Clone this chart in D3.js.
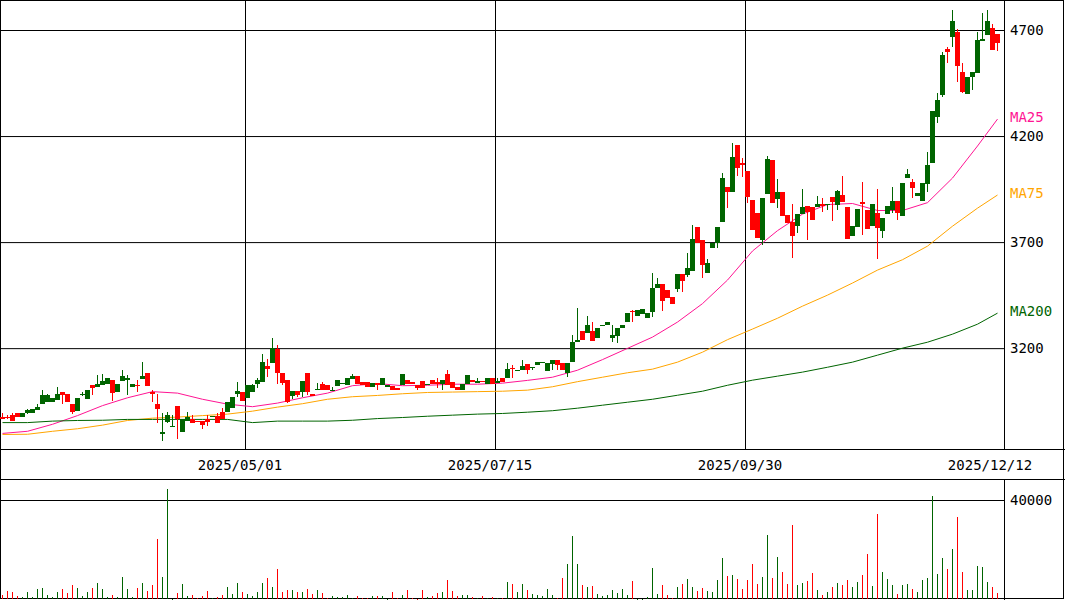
<!doctype html>
<html>
  <head>
    <meta charset="utf-8"/>
    <title>Daily chart</title>
    <style>
      body, html {
        margin: 0;
        padding: 0;
        background: white;
      }
      svg {
        display: block;
      }
    </style>
    <script src="https://d3js.org/d3.v7.min.js"></script>
  </head>
  <body>
    <svg width="1065" height="600"></svg>
    <script>
      // daily candles, oldest first (200 sessions)
      var opens = [
        2876,2875,2884,2892,2876,2892,2895,2907,2939,2947,
        2947,2955,2991,2986,2936,2904,2980,2958,3025,3015,
        3025,3030,3049,2994,3046,3052,3018,3027,3054,3083,
        2994,2936,2797,2853,2830,2926,2805,2856,2868,2857,
        2856,2865,2876,2879,2900,2897,2918,2986,2992,2966,
        2994,3033,3041,3115,3131,3195,3081,3049,2975,2997,
        2994,3081,2986,3003,3030,3025,2998,3021,3033,3025,
        3055,3068,3040,3040,3017,3036,3025,3017,3021,3010,
        3025,3052,3041,3025,3046,3025,3049,3041,3033,3077,
        3041,3017,3002,3033,3049,3038,3046,3033,3057,3036,
        3057,3057,3106,3096,3099,3123,3107,3120,3131,3093,
        3123,3143,3132,3081,3135,3230,3280,3272,3280,3246,
        3304,3308,3246,3257,3296,3324,3375,3351,3359,3340,
        3371,3482,3502,3474,3442,3478,3549,3544,3565,3771,
        3711,3552,3670,3694,3796,3958,3937,4157,4074,4035,
        3898,3838,3709,3926,4087,3903,3937,3827,3796,3775,
        3831,3870,3864,3864,3882,3874,3914,3874,3922,3864,
        3728,3772,3890,3851,3775,3835,3752,3831,3851,3893,
        3823,4003,3984,3918,3895,3974,4071,4291,4393,4609,
        4668,4692,4503,4398,4477,4498,4650,4676,4709,4681
      ];
      var highs = [
        2892,2887,2892,2892,2892,2912,2911,2939,3002,2986,
        2963,3015,2991,2986,2936,2963,2994,3002,3025,3073,
        3077,3057,3049,3033,3096,3073,3030,3052,3135,3083,
        3005,2986,2895,2897,2884,2926,2864,2898,2884,2857,
        2856,2887,2879,2892,2916,2945,2970,3041,2992,3025,
        3033,3057,3172,3151,3246,3214,3081,3049,2997,2997,
        3044,3081,2986,3036,3041,3025,3017,3052,3038,3057,
        3077,3068,3040,3040,3036,3036,3057,3024,3021,3010,
        3077,3052,3041,3025,3046,3033,3049,3057,3049,3096,
        3041,3017,3033,3073,3049,3057,3046,3057,3057,3060,
        3057,3128,3120,3099,3146,3123,3112,3134,3135,3128,
        3143,3143,3132,3131,3261,3387,3280,3351,3321,3296,
        3308,3324,3308,3294,3308,3368,3379,3379,3384,3366,
        3552,3529,3502,3474,3442,3549,3549,3647,3780,3771,
        3711,3620,3697,3771,4024,3958,4166,4157,4095,4035,
        3898,3838,3909,4106,4087,3997,3937,3827,3879,3832,
        3950,3870,3864,3917,3906,3879,3914,3945,4011,3864,
        3775,3856,3984,3851,3882,3950,3816,3870,3961,3893,
        3980,4047,3997,3932,3980,4126,4318,4404,4598,4621,
        4794,4703,4543,4480,4503,4689,4779,4794,4728,4681
      ];
      var lows = [
        2864,2864,2857,2876,2876,2888,2895,2907,2939,2947,
        2947,2955,2936,2947,2889,2904,2973,2958,2978,3015,
        3025,3030,2951,2994,3046,2978,3018,2994,3054,3021,
        2947,2845,2763,2845,2829,2772,2805,2856,2848,2853,
        2818,2833,2876,2848,2865,2897,2918,2970,2951,2966,
        2994,3010,3041,3065,3131,3033,3025,2942,2958,2970,
        2970,2978,2975,3002,3002,3002,2998,3021,3033,3025,
        3055,3033,3025,3017,3017,3005,3025,3017,3002,3002,
        3025,3033,3033,3002,3010,3025,3030,3010,3005,3025,
        3013,3002,3002,3033,3041,3038,3041,3033,3033,3036,
        3041,3057,3057,3096,3099,3077,3096,3120,3131,3093,
        3099,3096,3096,3065,3135,3230,3238,3272,3234,3246,
        3304,3308,3230,3222,3296,3324,3324,3351,3359,3340,
        3348,3482,3376,3435,3408,3463,3466,3536,3565,3694,
        3532,3552,3670,3670,3796,3859,3937,4011,4005,3883,
        3757,3717,3686,3926,3886,3859,3823,3791,3623,3744,
        3831,3709,3804,3864,3843,3851,3800,3851,3890,3713,
        3728,3772,3733,3761,3775,3618,3720,3831,3837,3804,
        3823,4003,3906,3918,3895,3937,4071,4263,4385,4546,
        4621,4456,4401,4398,4417,4498,4650,4676,4606,4602
      ];
      var closes = [
        2868,2870,2857,2876,2892,2907,2911,2923,2978,2978,
        2963,2983,2980,2947,2900,2963,2986,3002,3013,3030,
        3046,3057,2989,3033,3068,3057,3030,3022,3068,3021,
        2986,2912,2803,2884,2833,2864,2864,2876,2848,2853,
        2837,2851,2879,2848,2865,2945,2970,2997,2951,3025,
        3025,3049,3135,3102,3199,3081,3036,2948,2997,2978,
        3044,2994,2975,3006,3002,3002,3005,3052,3038,3057,
        3068,3033,3025,3017,3036,3025,3057,3024,3002,3002,
        3077,3033,3033,3010,3010,3033,3030,3033,3049,3025,
        3013,3002,3033,3073,3041,3046,3041,3057,3033,3044,
        3041,3104,3101,3099,3115,3096,3112,3134,3135,3128,
        3143,3120,3096,3131,3230,3238,3238,3308,3234,3296,
        3308,3324,3261,3294,3308,3368,3370,3379,3384,3366,
        3482,3502,3423,3435,3408,3549,3518,3576,3713,3694,
        3590,3602,3697,3771,4002,3937,4099,4048,4062,3914,
        3757,3717,3909,4092,3886,3937,3823,3791,3728,3832,
        3864,3843,3804,3882,3870,3879,3890,3940,3890,3713,
        3775,3856,3882,3761,3882,3767,3816,3870,3893,3835,
        3980,4021,3956,3932,3980,4063,4318,4370,4582,4598,
        4744,4532,4409,4480,4503,4653,4657,4742,4606,4637
      ];
      var volumes = [
        1600,3200,2800,1200,800,2800,800,4000,4400,1600,
        800,2800,4000,2400,5700,4400,1200,2800,4400,6500,
        4000,800,1600,800,8900,4000,800,4400,6500,3200,
        5700,24200,8900,44400,200,2400,6100,1200,1600,400,
        1200,3200,400,800,1600,4800,2000,6500,2800,2000,
        1200,2800,6500,8500,4800,12100,2800,3600,3600,2800,
        2800,4000,2000,3600,2400,400,1200,800,800,1600,
        400,1200,400,400,1200,1200,1200,200,2800,400,
        1600,3600,400,200,3600,800,1200,2400,2800,7700,
        3200,1200,1600,1600,800,400,1200,400,800,400,
        400,6900,6100,2800,6100,3600,2000,1600,1200,4000,
        1600,400,8500,14100,25500,14100,5700,4800,5300,2000,
        1200,1600,3600,2400,4000,1600,7300,200,200,800,
        12500,2000,5700,1600,400,4800,6100,8100,4800,3200,
        4400,3200,2800,7700,16600,9300,9700,8100,4000,7700,
        14100,6100,8900,25900,8500,17000,10900,6100,29900,5700,
        6500,7300,10500,3600,1600,2800,4800,6500,5700,7700,
        4800,6900,9700,18200,5300,34300,10900,8100,5700,2000,
        5700,6100,4000,2800,7700,8500,41600,10100,16600,12100,
        20200,33100,10900,3600,3600,13300,12900,6900,4800,2400
      ];

      // moving averages read every 5 sessions (plus the last one)
      var maIndex = d3.range(0, 200, 5).concat([199]);
      var ma25 = [
        2798,2808,2841,2882,2929,2966,2995,2988,2959,2936,
        2924,2941,2966,2988,3023,3033,3023,3025,3030,3030,
        3035,3048,3063,3096,3146,3199,3252,3323,3410,3521,
        3658,3754,3832,3877,3882,3849,3849,3886,4002,4153,4280
      ];
      var ma75 = [
        2793,2794,2808,2820,2837,2859,2870,2875,2882,2889,
        2903,2922,2938,2959,2971,2977,2985,2991,2993,2995,
        2997,3002,3018,3042,3063,3084,3101,3134,3181,3240,
        3290,3341,3398,3450,3507,3568,3617,3681,3775,3860,3922
      ];
      var ma200 = [
        2849,2849,2856,2859,2860,2864,2864,2864,2864,2864,
        2849,2856,2856,2856,2860,2868,2873,2879,2884,2889,
        2892,2898,2905,2917,2931,2945,2959,2978,2997,3025,
        3049,3068,3087,3110,3134,3167,3200,3228,3266,3313,3365
      ];

      var priceTicks = [3200, 3700, 4200, 4700];
      var volumeTicks = [40000];
      var dateIndex = [49, 99, 149, 199];
      var dateLabels = ["2025/05/01", "2025/07/15", "2025/09/30", "2025/12/12"];

      var up = "#006400", down = "#ff0000";
      var font = "'DejaVu Sans Mono', monospace";

      var svg = d3.select("svg"),
          plotRight = 1004,
          mainBottom = 449;

      var x = d3.scaleBand().domain(d3.range(opens.length)).range([0, 1000]);
      var y = d3.scaleLinear().domain([2724.5, 4841.5]).range([mainBottom, 0]);
      var yv = d3.scaleLinear().domain([0, 40000]).range([599, 500]);

      // price grid + labels
      var py = svg.append("g")
        .attr("transform", "translate(" + plotRight + ",0)")
        .call(d3.axisRight(y).tickValues(priceTicks).tickSize(-plotRight)
          .tickSizeOuter(0).tickPadding(6).tickFormat(d3.format("d")))
        .attr("font-family", font)
        .attr("font-size", 14);
      py.selectAll("line").attr("stroke", "#000");
      py.select(".domain").attr("stroke", "#000");

      // volume grid + label
      var vy = svg.append("g")
        .attr("transform", "translate(" + plotRight + ",0)")
        .call(d3.axisRight(yv).tickValues(volumeTicks).tickSize(-plotRight)
          .tickSizeOuter(0).tickPadding(6).tickFormat(d3.format("d")))
        .attr("font-family", font)
        .attr("font-size", 14);
      vy.select(".domain").remove();
      vy.selectAll("line").attr("stroke", "#000");

      // date grid lines
      svg.selectAll(".vgrid")
        .data(dateIndex.slice(0, 3))
        .enter().append("line")
          .attr("class", "vgrid")
          .attr("x1", function(d) { return x(d) + 0.5; })
          .attr("x2", function(d) { return x(d) + 0.5; })
          .attr("y1", 0)
          .attr("y2", mainBottom)
          .attr("stroke", "#000");

      svg.selectAll(".dlabel")
        .data(dateIndex)
        .enter().append("text")
          .attr("class", "dlabel")
          .attr("x", function(d) { return x(d) - 5; })
          .attr("y", 465)
          .attr("dy", "0.35em")
          .attr("text-anchor", "middle")
          .attr("font-family", font)
          .attr("font-size", 14)
          .text(function(d, i) { return dateLabels[i]; });

      // frame
      svg.append("rect")
        .attr("x", 0.5).attr("y", 0.5)
        .attr("width", 1063).attr("height", 598)
        .attr("fill", "none").attr("stroke", "#000");
      [449.5, 479.5].forEach(function(v) {
        svg.append("line")
          .attr("x1", 0).attr("x2", 1065)
          .attr("y1", v).attr("y2", v)
          .attr("stroke", "#000");
      });
      svg.append("line")
        .attr("x1", plotRight + 0.5).attr("x2", plotRight + 0.5)
        .attr("y1", 479.5).attr("y2", 600)
        .attr("stroke", "#000");

      // moving averages
      var maLine = d3.line()
        .x(function(d, i) { return x(maIndex[i]) + x.bandwidth() / 2; })
        .y(function(d) { return y(d); });

      var mas = [
        {name: "MA25", values: ma25, color: "#ff1493"},
        {name: "MA75", values: ma75, color: "#ffa500"},
        {name: "MA200", values: ma200, color: "#006400"}
      ];

      mas.forEach(function(m) {
        svg.append("path")
          .datum(m.values)
          .attr("d", maLine)
          .attr("fill", "none")
          .attr("stroke", m.color)
          .attr("stroke-width", 1);
        svg.append("text")
          .attr("x", 1010)
          .attr("y", y(m.values[m.values.length - 1]) - 2)
          .attr("dy", "0.35em")
          .attr("font-family", font)
          .attr("font-size", 14)
          .attr("fill", m.color)
          .text(m.name);
      });

      // candles
      var candle = svg.append("g")
        .attr("shape-rendering", "crispEdges")
        .selectAll("g")
        .data(d3.range(opens.length))
        .enter().append("g");

      function colorOf(i) { return closes[i] >= opens[i] ? up : down; }

      candle.append("rect")
        .attr("x", function(i) { return x(i) + 2; })
        .attr("width", 1)
        .attr("y", function(i) { return Math.round(y(highs[i])); })
        .attr("height", function(i) { return Math.max(1, Math.round(y(lows[i])) - Math.round(y(highs[i]))); })
        .attr("fill", colorOf);

      candle.append("rect")
        .attr("x", function(i) { return x(i); })
        .attr("width", x.bandwidth())
        .attr("y", function(i) { return Math.round(y(Math.max(opens[i], closes[i]))); })
        .attr("height", function(i) {
          return Math.max(1, Math.round(y(Math.min(opens[i], closes[i]))) - Math.round(y(Math.max(opens[i], closes[i]))));
        })
        .attr("fill", colorOf);

      // volume
      svg.append("g")
        .attr("shape-rendering", "crispEdges")
        .selectAll("rect")
        .data(d3.range(volumes.length))
        .enter().append("rect")
          .attr("x", function(i) { return x(i) + 2; })
          .attr("width", 1)
          .attr("y", function(i) { return Math.round(yv(volumes[i])); })
          .attr("height", function(i) { return Math.max(1, 599 - Math.round(yv(volumes[i]))); })
          .attr("fill", colorOf);
    </script>
  </body>
</html>
